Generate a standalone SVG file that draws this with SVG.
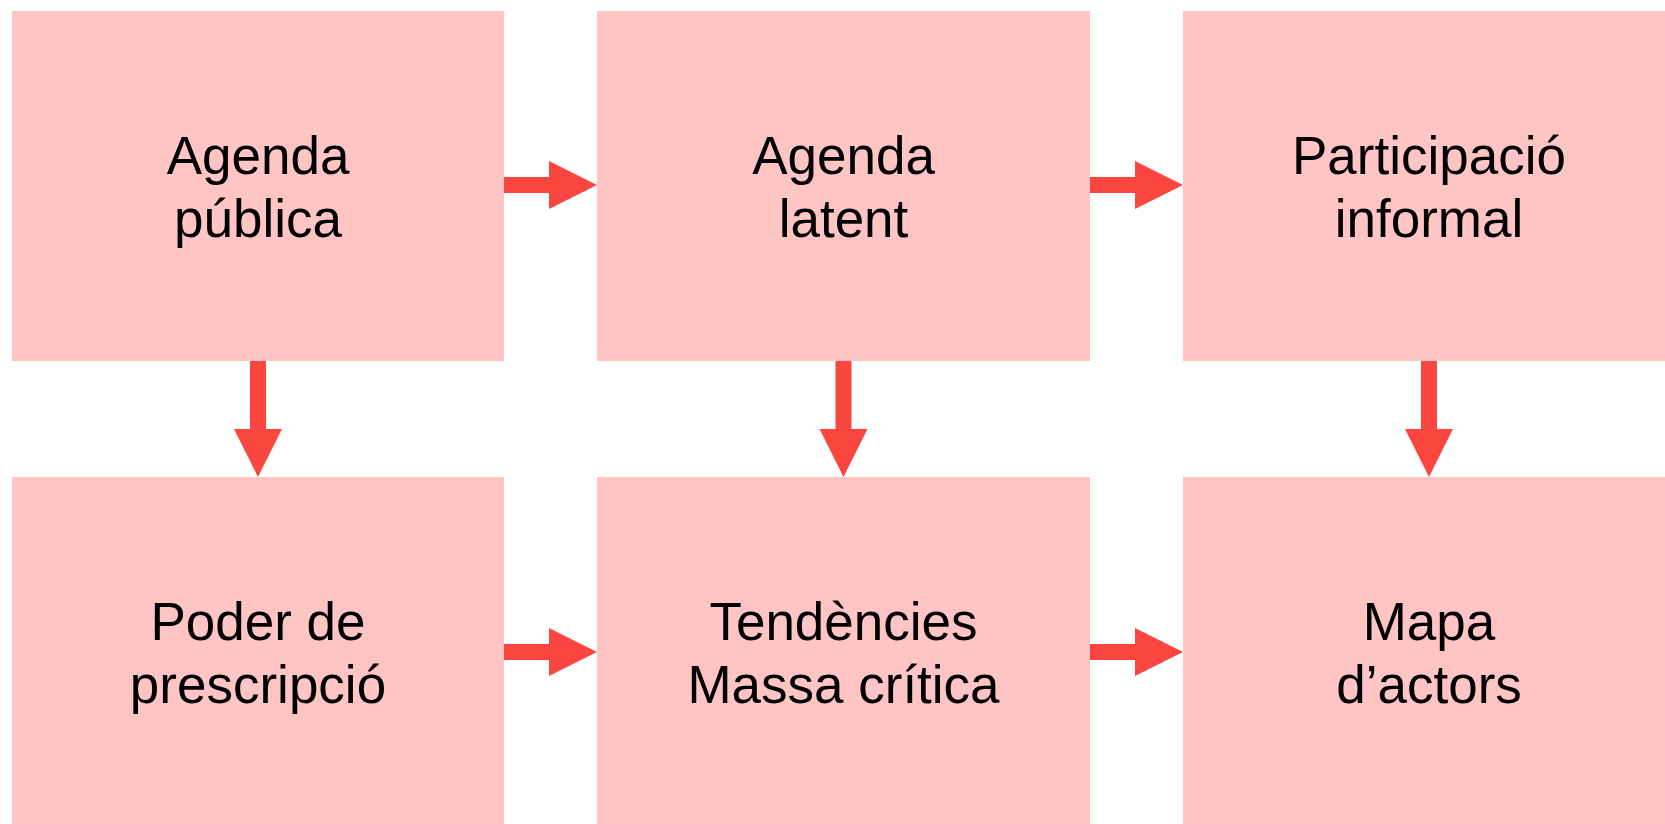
<svg xmlns="http://www.w3.org/2000/svg" width="1665" height="824" viewBox="0 0 1665 824">
<style>
.box{fill:#ffc4c4}
.lbl{font-family:"Liberation Sans",Arial,sans-serif;font-size:53px;fill:#000;text-anchor:middle}
.arr{fill:#fb4640}
</style>
<rect width="1665" height="824" fill="#fff"/>
<g id="connectors">
<path class="arr" d="M504 177H549V161L597 185L549 209V193H504Z"/>
<path class="arr" d="M1090 177H1135V161L1183 185L1135 209V193H1090Z"/>
<path class="arr" d="M504 644H549V628L597 652L549 676V660H504Z"/>
<path class="arr" d="M1090 644H1135V628L1183 652L1135 676V660H1090Z"/>
<path class="arr" d="M250 361V429H234L258 477L282 429H266V361Z"/>
<path class="arr" d="M835.5 361V429H819.5L843.5 477L867.5 429H851.5V361Z"/>
<path class="arr" d="M1421 361V429H1405L1429 477L1453 429H1437V361Z"/>
</g>
<g id="n1"><rect class="box" x="12" y="11" width="492" height="350"/><text class="lbl" x="258" y="174">Agenda</text><text class="lbl" x="258" y="237">pública</text></g>
<g id="n2"><rect class="box" x="597" y="11" width="493" height="350"/><text class="lbl" x="843.5" y="174">Agenda</text><text class="lbl" x="843.5" y="237">latent</text></g>
<g id="n3"><rect class="box" x="1183" y="11" width="493" height="350"/><text class="lbl" x="1429" y="174">Participació</text><text class="lbl" x="1429" y="237">informal</text></g>
<g id="n4"><rect class="box" x="12" y="477" width="492" height="350"/><text class="lbl" x="258" y="640">Poder de</text><text class="lbl" x="258" y="703">prescripció</text></g>
<g id="n5"><rect class="box" x="597" y="477" width="493" height="350"/><text class="lbl" x="843.5" y="640">Tendències</text><text class="lbl" x="843.5" y="703">Massa crítica</text></g>
<g id="n6"><rect class="box" x="1183" y="477" width="493" height="350"/><text class="lbl" x="1429" y="640">Mapa</text><text class="lbl" x="1429" y="703">d’actors</text></g>
</svg>
